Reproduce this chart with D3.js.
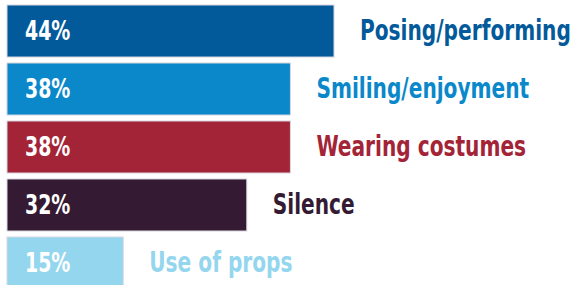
<!DOCTYPE html>
<html lang="en">
<head>
  <meta charset="utf-8">
  <title>behaviours</title>
  <script src="https://d3js.org/d3.v7.min.js"></script>
  <style>
    body { margin: 0; background: #fff; }
    svg text {
      font-family: "DejaVu Sans Condensed", "Liberation Sans Narrow", sans-serif;
      font-weight: bold;
      font-size: 27px;
    }
    .pct { fill: #fff; }
    .name { font-size: 28px; }
  </style>
</head>
<body>
  <script>
    // data
    const categories = ["Posing/performing", "Smiling/enjoyment", "Wearing costumes", "Silence", "Use of props"];
    const values = [44, 38, 38, 32, 15];
    const colors = ["#035a9b", "#0a88ca", "#a32437", "#341a33", "#95d6ef"];

    const width = 570, height = 285;
    const squeeze = 0.78; // 字体横向压缩，模拟窄体字

    const svg = d3.select("body").append("svg")
      .attr("width", width).attr("height", height);

    const xScale = d3.scaleLinear().domain([-1, 44]).range([7, 334]);
    const yScale = d3.scaleBand()
      .domain(categories)
      .range([5, 289])
      .paddingInner(0.103)
      .paddingOuter(0);

    const rows = categories.map((c, i) => ({ name: c, value: values[i], color: colors[i] }));

    const bar = svg.selectAll("g.bar").data(rows).join("g")
      .attr("class", "bar")
      .attr("transform", d => `translate(0,${yScale(d.name)})`);

    bar.append("rect")
      .attr("x", xScale(-1))
      .attr("width", d => xScale(d.value) - xScale(-1))
      .attr("height", yScale.bandwidth())
      .attr("fill", d => d.color)
      .attr("stroke", "#d8d8e0")
      .attr("stroke-width", 1);

    const ty = yScale.bandwidth() / 2 + 9;

    // 百分比标签
    bar.append("text").attr("class", "pct")
      .attr("transform", `translate(25,${ty}) scale(${squeeze},1)`)
      .text(d => d.value + "%");

    // 类别标签
    bar.append("text").attr("class", "name")
      .attr("transform", d => `translate(${xScale(d.value) + 26},${ty}) scale(0.8,1)`)
      .attr("fill", d => d.color)
      .text(d => d.name);
  </script>
</body>
</html>
